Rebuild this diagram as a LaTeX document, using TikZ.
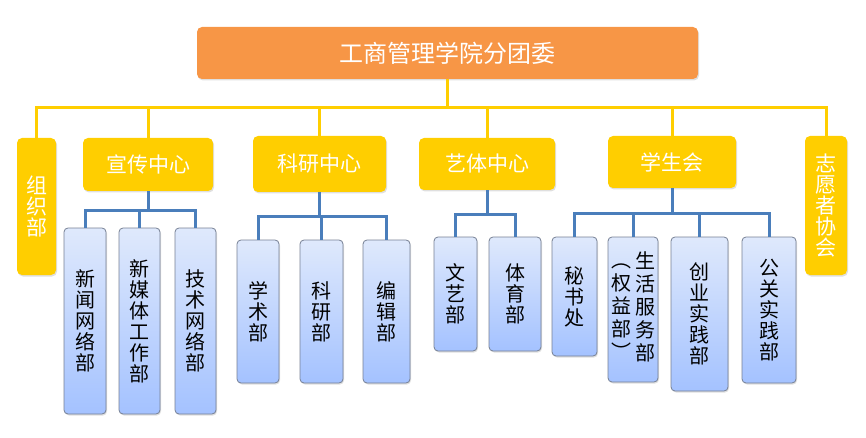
\documentclass[tikz,border=0pt]{standalone}
\usepackage{fontspec}
\newfontfamily\cjk{Noto Sans CJK SC}
\usepackage{tikz}
\usetikzlibrary{shadows}

\definecolor{orgorange}{RGB}{247,150,70}
\definecolor{orgyellow}{RGB}{255,206,0}
\definecolor{orgblue}{RGB}{74,126,187}
\definecolor{boxtop}{RGB}{223,233,252}
\definecolor{boxbot}{RGB}{164,194,255}
\definecolor{boxedge}{RGB}{118,128,148}

\begin{document}
\begin{tikzpicture}[x=1pt, y=1pt,
    head/.style={rectangle, rounded corners=5pt, fill=orgorange, text=white, font=\cjk\fontsize{24}{26}\selectfont, drop shadow={opacity=0.25, shadow xshift=1pt, shadow yshift=-1.5pt}},
    unit/.style={rectangle, rounded corners=5pt, fill=orgyellow, text=white, align=center, inner sep=0pt, font=\cjk\fontsize{21}{21}\selectfont, drop shadow={opacity=0.25, shadow xshift=1pt, shadow yshift=-1.5pt}},
    dept/.style={rectangle, rounded corners=4pt, draw=boxedge, line width=0.8pt, top color=boxtop, bottom color=boxbot, text=black, align=center, inner sep=0pt, font=\cjk\fontsize{20}{21}\selectfont, drop shadow={opacity=0.25, shadow xshift=1pt, shadow yshift=-1.5pt}},
    yline/.style={draw=orgyellow, line width=3pt},
    bline/.style={draw=orgblue, line width=3pt}]
    \useasboundingbox (0,0) rectangle (866,-438);

    \coordinate (ybus) at (0,-108);

    \node[head, minimum width=501pt, minimum height=52pt] (top) at (447.5,-53) {工商管理学院分团委};

    \node[unit, minimum width=39pt, minimum height=137pt] (zz) at (36.5,-206.5) {组\\织\\部};
    \node[unit, minimum width=130pt, minimum height=53pt] (xc) at (148,-164.5) {宣传中心};
    \node[unit, minimum width=133pt, minimum height=56pt] (kc) at (319.5,-164) {科研中心};
    \node[unit, minimum width=136pt, minimum height=52pt] (yt) at (487,-164) {艺体中心};
    \node[unit, minimum width=128pt, minimum height=52pt] (xs) at (672,-162) {学生会};
    \node[unit, minimum width=42pt, minimum height=139pt] (zy) at (826,-205.5) {志\\愿\\者\\协\\会};

    % 宣传中心
    \node[dept, minimum width=42pt, minimum height=186pt] (xw) at (85,-321) {新\\闻\\网\\络\\部};
    \node[dept, minimum width=41pt, minimum height=186pt] (xm) at (139.5,-321) {新\\媒\\体\\工\\作\\部};
    \node[dept, minimum width=41pt, minimum height=186pt] (js) at (195.5,-321) {技\\术\\网\\络\\部};
    % 科研中心
    \node[dept, minimum width=42pt, minimum height=143pt] (xsb) at (258,-311.5) {学\\术\\部};
    \node[dept, minimum width=43pt, minimum height=143pt] (kyb) at (321.5,-311.5) {科\\研\\部};
    \node[dept, minimum width=47pt, minimum height=143pt] (bjb) at (386.5,-311.5) {编\\辑\\部};
    % 艺体中心
    \node[dept, minimum width=43pt, minimum height=114pt] (wyb) at (455.5,-294) {文\\艺\\部};
    \node[dept, minimum width=52pt, minimum height=114pt] (tyb) at (515,-294) {体\\育\\部};
    % 学生会
    \node[dept, minimum width=45pt, minimum height=119pt] (msc) at (574.5,-296.5) {秘\\书\\处};
    \node[dept, minimum width=50pt, minimum height=145pt] (shb) at (633,-309.5)
        {\begin{tabular}{@{}c@{}}︵\\权\\益\\部\\︶\end{tabular}\hspace{4pt}\begin{tabular}{@{}c@{}}生\\活\\服\\务\\部\end{tabular}};
    \node[dept, minimum width=57pt, minimum height=154pt] (cyb) at (699.5,-314) {创\\业\\实\\践\\部};
    \node[dept, minimum width=54pt, minimum height=146pt] (ggb) at (769,-310) {公\\关\\实\\践\\部};

    % top level
    \foreach \c in {zz, xc, kc, yt, xs, zy} {
        \draw[yline] (top.south) -- (top.south |- ybus) -| (\c.north);
    }
    % second level
    \foreach \c in {xw, xm, js} {
        \draw[bline] (xc.south) -- ++(0,-19) -| (\c.north);
    }
    \foreach \c in {xsb, kyb, bjb} {
        \draw[bline] (kc.south) -- ++(0,-24) -| (\c.north);
    }
    \foreach \c in {wyb, tyb} {
        \draw[bline] (yt.south) -- ++(0,-24) -| (\c.north);
    }
    \foreach \c in {msc, shb, cyb, ggb} {
        \draw[bline] (xs.south) -- ++(0,-25) -| (\c.north);
    }
\end{tikzpicture}
\end{document}
